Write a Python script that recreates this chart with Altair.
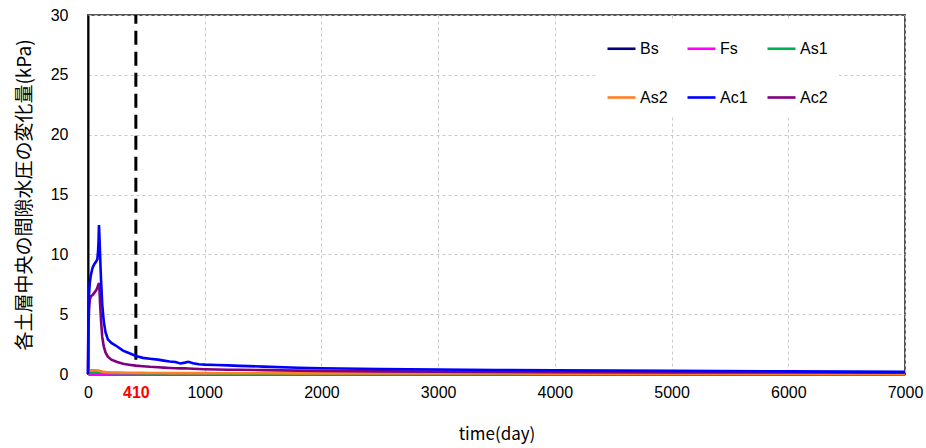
import altair as alt
import pandas as pd

# Elapsed time (days) shared by every layer series
t = [0, 3, 8, 15, 25, 40, 55, 70, 80, 86, 90, 94, 98, 104, 112, 122, 135, 150, 170, 200,
     250, 300, 350, 410, 470, 530, 600, 650, 700, 750, 790, 830, 860, 900, 950, 1000,
     1100, 1200, 1300, 1500, 1800, 2000, 2500, 3000, 3500, 4000, 5000, 6000, 7000]

# Change of pore water pressure at the middle of each soil layer (kPa)
bs = [0.0] * len(t)
fs = [0, 0.02, 0.03, 0.03, 0.03, 0.03, 0.03, 0.03, 0.03, 0.03, 0.03, 0.03, 0.03, 0.03, 0.02,
      0.02, 0.02, 0.02, 0.02, 0.02, 0.02, 0.01, 0.01, 0.01, 0.01, 0.01, 0.01, 0.01, 0.01,
      0.01, 0.01, 0.01, 0.01, 0.01, 0.01, 0.01, 0.01, 0.01, 0.01, 0.0, 0.0, 0.0, 0.0, 0.0,
      0.0, 0.0, 0.0, 0.0, 0.0]
as1 = [0, 0.08, 0.12, 0.14, 0.15, 0.15, 0.15, 0.15, 0.15, 0.15, 0.15, 0.15, 0.14, 0.13, 0.12,
       0.11, 0.10, 0.09, 0.09, 0.08, 0.07, 0.07, 0.06, 0.06, 0.05, 0.05, 0.05, 0.05, 0.04,
       0.04, 0.04, 0.04, 0.04, 0.04, 0.04, 0.04, 0.03, 0.03, 0.03, 0.03, 0.03, 0.02, 0.02,
       0.02, 0.02, 0.01, 0.01, 0.01, 0.01]
as2 = [0, 0.20, 0.28, 0.30, 0.30, 0.30, 0.30, 0.30, 0.29, 0.29, 0.28, 0.28, 0.27, 0.25, 0.23,
       0.20, 0.18, 0.16, 0.14, 0.13, 0.12, 0.10, 0.10, 0.09, 0.09, 0.08, 0.08, 0.08, 0.07,
       0.07, 0.07, 0.07, 0.07, 0.07, 0.07, 0.07, 0.06, 0.06, 0.06, 0.06, 0.05, 0.05, 0.05,
       0.04, 0.04, 0.03, 0.02, 0.02, 0.01]
ac1 = [0, 4.5, 6.5, 7.6, 8.3, 8.9, 9.2, 9.4, 9.6, 10.2, 11.0, 12.45, 11.5, 9.8, 7.8,
       5.8, 4.4, 3.5, 2.9, 2.6, 2.3, 1.95, 1.75, 1.5, 1.35, 1.28, 1.2, 1.12, 1.05,
       1.0, 0.88, 0.95, 1.02, 0.9, 0.82, 0.78, 0.75, 0.72, 0.68, 0.62, 0.52, 0.48, 0.42,
       0.38, 0.34, 0.31, 0.26, 0.22, 0.18]
ac2 = [0, 3.5, 5.2, 6.2, 6.5, 6.6, 6.8, 7.0, 7.2, 7.4, 7.5, 7.6, 7.1, 5.8, 4.4,
       3.1, 2.3, 1.8, 1.45, 1.2, 1.0, 0.85, 0.78, 0.7, 0.65, 0.6, 0.56, 0.53, 0.5,
       0.48, 0.47, 0.47, 0.46, 0.44, 0.42, 0.4, 0.38, 0.36, 0.35, 0.32, 0.28, 0.26, 0.22,
       0.2, 0.18, 0.16, 0.14, 0.12, 0.1]

layers = ["Bs", "Fs", "As1", "As2", "Ac1", "Ac2"]
colors = ["#000080", "#ff00ff", "#00b050", "#ff7f27", "#0000ff", "#800080"]
series = {"Bs": bs, "Fs": fs, "As1": as1, "As2": as2, "Ac2": ac2, "Ac1": ac1}

# Marker for day 410
mark_day = [410]
mark_lo = [1.2]
mark_hi = [30]

x_ticks = [0, 410, 1000, 2000, 3000, 4000, 5000, 6000, 7000]
y_ticks = [0, 5, 10, 15, 20, 25, 30]

rows = []
for name, vals in series.items():
    for i, (ti, vi) in enumerate(zip(t, vals)):
        rows.append({"layer": name, "time": ti, "dp": vi, "idx": i})
df = pd.DataFrame(rows)

num_font = "Liberation Sans"
jp_font = "Noto Sans CJK JP"

x_axis = alt.Axis(
    values=x_ticks, format="d", title="time(day)", titleFont=jp_font, titleFontSize=17,
    titleFontWeight="normal", titlePadding=26, labelFont=num_font, labelFontSize=16,
    labelPadding=10, ticks=False, domainColor="black", domainWidth=2,
    labelColor={"condition": {"test": "datum.value == 410", "value": "#ff0000"}, "value": "black"},
    labelFontWeight={"condition": {"test": "datum.value == 410", "value": "bold"}, "value": "normal"},
    gridColor={"condition": {"test": "datum.value == 410", "value": "transparent"}, "value": "#c8c8c8"},
    gridDash=[3, 3], labelFlush=False,
)
y_axis = alt.Axis(
    values=y_ticks, format="d", title="各土層中央の間隙水圧の変化量(kPa)", titleFont=jp_font,
    titleFontSize=19, titleFontWeight="normal", titlePadding=16, labelFont=num_font,
    labelFontSize=16, labelPadding=20, ticks=False, domainColor="black", domainWidth=2,
    gridColor="#c8c8c8", gridDash=[3, 3],
)

x_scale = alt.Scale(domain=[0, 7000], nice=False)
y_scale = alt.Scale(domain=[0, 30], nice=False)

lines = alt.Chart(df).mark_line(strokeWidth=2.6).encode(
    x=alt.X("time:Q", scale=x_scale, axis=x_axis),
    y=alt.Y("dp:Q", scale=y_scale, axis=y_axis),
    color=alt.Color(
        "layer:N",
        scale=alt.Scale(domain=layers, range=colors),
        legend=alt.Legend(
            title=None, orient="none", legendX=507, legendY=7, columns=3,
            direction="horizontal",
            symbolType="stroke", symbolSize=784, symbolStrokeWidth=2.6,
            labelFont=num_font, labelFontSize=16, labelOffset=3,
            columnPadding=14, rowPadding=25, gridAlign="all",
            fillColor="white", padding=11,
        ),
    ),
    order=alt.Order("idx:Q"),
    detail="layer:N",
)

marker_df = pd.DataFrame({"time": mark_day, "lo": mark_lo, "hi": mark_hi})
marker = alt.Chart(marker_df).mark_rule(
    color="black", strokeWidth=3, strokeDash=[14, 7]
).encode(
    x=alt.X("time:Q", scale=x_scale),
    y=alt.Y("lo:Q", scale=y_scale),
    y2="hi:Q",
)

chart = alt.layer(marker, lines).properties(
    width=817, height=359,
    autosize=alt.AutoSizeParams(type="none"),
    padding={"left": 88, "top": 15, "right": 21, "bottom": 74},
    background="white",
).configure_view(stroke="#555555", strokeWidth=2)

chart.save("out.html", embed_options={"renderer": "svg", "actions": False})
